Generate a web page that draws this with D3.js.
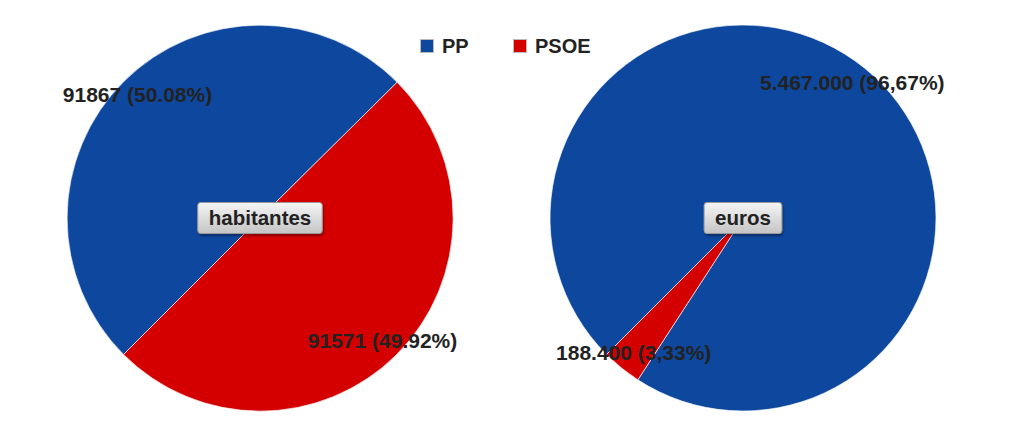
<!DOCTYPE html>
<html><head><meta charset="utf-8">
<script src="https://cdn.jsdelivr.net/npm/d3@7"></script>
<style>body{margin:0;background:#fff}svg{display:block}text{font-family:"Liberation Sans",Arial,sans-serif;font-weight:bold}</style>
</head><body>
<script>
const categories = ["PP", "PSOE"];
const colors = ["#0e479e", "#d40000"];
const habitantes = [91867, 91571];
const habitantesLabels = ["91867 (50.08%)", "91571 (49.92%)"];
const euros = [5467000, 188400];
const eurosLabels = ["5.467.000 (96,67%)", "188.400 (3,33%)"];
const pieTitles = ["habitantes", "euros"];

const W = 1027, H = 432;
const svg = d3.select("body").append("svg").attr("width", W).attr("height", H);
const defs = svg.append("defs");
const grad = defs.append("linearGradient").attr("id", "btn").attr("x1", 0).attr("y1", 0).attr("x2", 0).attr("y2", 1);
grad.append("stop").attr("offset", "0%").attr("stop-color", "#f6f6f6");
grad.append("stop").attr("offset", "100%").attr("stop-color", "#c4c4c4");
const f = defs.append("filter").attr("id", "sh").attr("x", "-20%").attr("y", "-30%").attr("width", "140%").attr("height", "170%");
f.append("feDropShadow").attr("dx", 1).attr("dy", 2).attr("stdDeviation", 1.2).attr("flood-color", "#000").attr("flood-opacity", 0.35);

const R = 193;
const pie = d3.pie().sort(null).value(d => d).startAngle(-3 * Math.PI / 4).endAngle(-3 * Math.PI / 4 + 2 * Math.PI);
const arc = d3.arc().innerRadius(0).outerRadius(R);
const labelArc = d3.arc().innerRadius(R * 0.9).outerRadius(R * 0.9);

const datasets = [
  {title: pieTitles[0], values: habitantes, labels: habitantesLabels},
  {title: pieTitles[1], values: euros, labels: eurosLabels}
];
const centers = [[260, 218], [743, 218]];

datasets.forEach((ds, k) => {
  const g = svg.append("g").attr("transform", `translate(${centers[k][0]},${centers[k][1]})`);
  const arcs = pie(ds.values);
  g.selectAll("path").data(arcs).join("path")
    .attr("d", arc).attr("fill", (d, i) => colors[i])
    .attr("stroke", "#fff").attr("stroke-width", 0.8).attr("stroke-opacity", 0.8);
  g.selectAll("text.lbl").data(arcs).join("text").attr("class", "lbl")
    .attr("transform", d => `translate(${labelArc.centroid(d)})`)
    .attr("text-anchor", "middle").attr("dy", "0.35em")
    .attr("font-size", 21).attr("fill", "#222")
    .text((d, i) => ds.labels[i]);
  const t = g.append("text").attr("text-anchor", "middle").attr("dy", "0.35em")
    .attr("font-size", 20.5).attr("fill", "#222").attr("y", 0).text(ds.title);
  const bb = t.node().getBBox();
  const bw = bb.width + 22, bh = 31;
  g.insert("rect", "text:last-of-type")
    .attr("x", -bw / 2).attr("y", -bh / 2).attr("width", bw).attr("height", bh)
    .attr("rx", 3).attr("fill", "url(#btn)").attr("stroke", "#9a9a9a").attr("stroke-width", 1)
    .attr("filter", "url(#sh)");
  t.raise();
});

// legend
const legend = svg.append("g");
const legX = [420, 513];
categories.forEach((c, i) => {
  legend.append("rect").attr("x", legX[i] + 0.5).attr("y", 39.5).attr("width", 13).attr("height", 13)
    .attr("fill", colors[i]).attr("stroke", "#bbb").attr("stroke-width", 1);
  legend.append("text").attr("x", legX[i] + 22).attr("y", 53).attr("font-size", 20).attr("fill", "#222").text(c);
});
</script>
</body></html>
